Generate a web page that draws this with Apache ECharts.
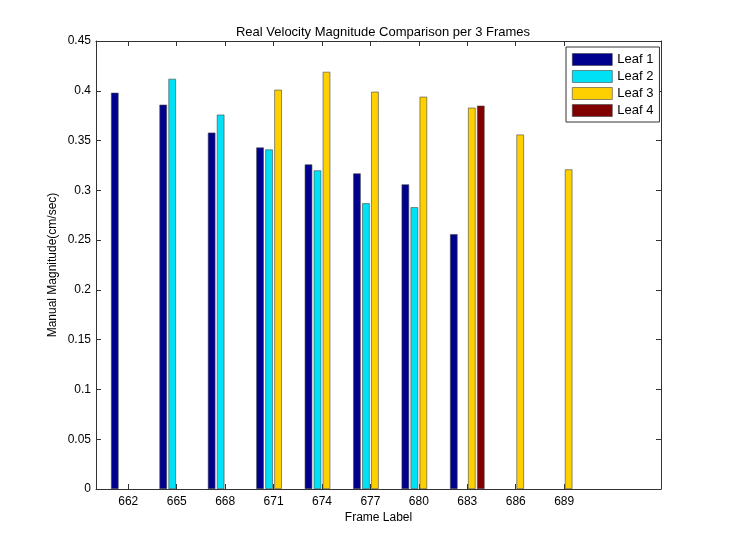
<!DOCTYPE html>
<html>
<head>
<meta charset="utf-8">
<script src="https://cdn.jsdelivr.net/npm/echarts@6/dist/echarts.min.js"></script>
<style>html,body{margin:0;padding:0;background:#fff}#c{width:733px;height:549px}</style>
</head>
<body>
<div id="c"></div>
<script>
const frames = [662, 665, 668, 671, 674, 677, 680, 683, 686, 689];
const leaf1 = [0.398, 0.386, 0.358, 0.343, 0.326, 0.317, 0.306, 0.256, null, null];
const leaf2 = [null, 0.412, 0.376, 0.341, 0.320, 0.287, 0.283, null, null, null];
const leaf3 = [null, null, null, 0.401, 0.419, 0.399, 0.394, 0.383, 0.356, 0.321];
const leaf4 = [null, null, null, null, null, null, null, 0.385, null, null];

const font = 'Liberation Sans, Arial, sans-serif';
const names = ['Leaf 1', 'Leaf 2', 'Leaf 3', 'Leaf 4'];
const colors = ['#00008f', '#00e1f5', '#ffd000', '#800000'];
const all = [leaf1, leaf2, leaf3, leaf4];

const series = all.map((arr, i) => ({
  name: names[i],
  type: 'bar',
  barWidth: 7.5,
  barGap: '20%',
  itemStyle: { color: colors[i], borderColor: '#444', borderWidth: 0.6 },
  data: frames.map((f, j) => [f, arr[j]]).filter(d => d[1] !== null)
}));

const chart = echarts.init(document.getElementById('c'));
chart.setOption({
  animation: false,
  backgroundColor: '#fff',
  title: {
    text: 'Real Velocity Magnitude Comparison per 3 Frames',
    left: 378, top: 21, textAlign: 'center',
    textStyle: { fontFamily: font, fontSize: 13, fontWeight: 'normal', color: '#000' }
  },
  legend: {
    orient: 'vertical', left: 566, top: 47,
    data: names,
    icon: 'rect',
    itemWidth: 40, itemHeight: 12, itemGap: 4,
    padding: [6, 6, 5, 6],
    borderColor: '#333', borderWidth: 1, backgroundColor: '#fff',
    textStyle: { fontFamily: font, fontSize: 13, color: '#000' },
    itemStyle: { borderColor: '#444', borderWidth: 0.6 }
  },
  grid: { left: 96, right: 72, top: 41, bottom: 60, containLabel: false },
  xAxis: [{
    type: 'value', min: 660, max: 695,
    name: 'Frame Label', nameLocation: 'middle', nameGap: 23, nameMoveOverlap: false,
    nameTextStyle: { fontFamily: font, fontSize: 12, color: '#000' },
    axisLine: { show: true, lineStyle: { color: '#333' } },
    axisTick: { show: true, inside: true, length: 5, customValues: frames, lineStyle: { color: '#333' } },
    axisLabel: { customValues: frames, fontFamily: font, fontSize: 12, color: '#000', margin: 7 },
    splitLine: { show: false }
  }, {
    type: 'value', min: 660, max: 695, position: 'top',
    axisLine: { show: true, onZero: false, lineStyle: { color: '#333' } },
    axisTick: { show: true, inside: true, length: 5, customValues: frames, lineStyle: { color: '#333' } },
    axisLabel: { show: false },
    splitLine: { show: false }
  }],
  yAxis: [{
    type: 'value', min: 0, max: 0.45, interval: 0.05,
    name: 'Manual Magnitude(cm/sec)', nameLocation: 'middle', nameGap: 37, nameMoveOverlap: false,
    nameTextStyle: { fontFamily: font, fontSize: 12, color: '#000' },
    axisLine: { show: true, lineStyle: { color: '#333' } },
    axisTick: { show: true, inside: true, length: 5, lineStyle: { color: '#333' } },
    axisLabel: { fontFamily: font, fontSize: 12, color: '#000', margin: 5,
      formatter: v => String(parseFloat(v.toFixed(2))) },
    splitLine: { show: false }
  }, {
    type: 'value', min: 0, max: 0.45, interval: 0.05, position: 'right',
    axisLine: { show: true, onZero: false, lineStyle: { color: '#333' } },
    axisTick: { show: true, inside: true, length: 5, lineStyle: { color: '#333' } },
    axisLabel: { show: false },
    splitLine: { show: false }
  }],
  series: series
});
</script>
</body>
</html>
